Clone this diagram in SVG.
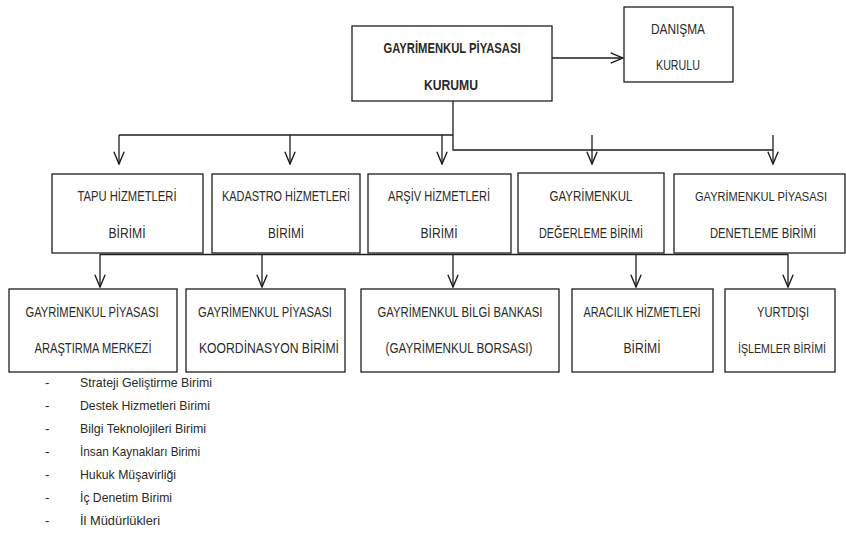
<svg xmlns="http://www.w3.org/2000/svg" width="846" height="545" viewBox="0 0 846 545">
<style>
.box{fill:#fff;stroke:#1e1e1e;stroke-width:1.3}
.t{font-family:"Liberation Sans",Arial,sans-serif;font-size:14px;fill:#2a2a2a;text-anchor:middle}
.tb{font-weight:bold}
.s13{font-size:12px}
.s12{font-size:12.5px}
.l{font-family:"Liberation Sans",Arial,sans-serif;font-size:13.5px;fill:#2a2a2a}
.c{fill:none;stroke:#1e1e1e;stroke-width:1.3}
</style>
<defs>
<marker id="v" markerUnits="userSpaceOnUse" markerWidth="14" markerHeight="12" viewBox="0 0 12 10" refX="11" refY="5" orient="auto">
<path d="M0.5,0.6 L11,5 L0.5,9.4" fill="none" stroke="#1e1e1e" stroke-width="1.2"/>
</marker>
</defs>
<rect width="846" height="545" fill="#fff"/>

<g id="connectors">
<line class="c" x1="552" y1="58" x2="623" y2="58" marker-end="url(#v)"/>
<path class="c" d="M453,101 V150 H773"/>
<path class="c" d="M119,135 H453"/>
<line class="c" x1="119" y1="135" x2="119" y2="164" marker-end="url(#v)"/>
<line class="c" x1="290" y1="135" x2="290" y2="164" marker-end="url(#v)"/>
<line class="c" x1="442" y1="135" x2="442" y2="164" marker-end="url(#v)"/>
<line class="c" x1="592" y1="135" x2="592" y2="164" marker-end="url(#v)"/>
<line class="c" x1="773" y1="135" x2="773" y2="164" marker-end="url(#v)"/>
<path class="c" d="M100,254.5 H788"/>
<line class="c" x1="100" y1="254" x2="100" y2="287" marker-end="url(#v)"/>
<line class="c" x1="262" y1="254" x2="262" y2="287" marker-end="url(#v)"/>
<line class="c" x1="453" y1="254" x2="453" y2="287" marker-end="url(#v)"/>
<line class="c" x1="636" y1="254" x2="636" y2="287" marker-end="url(#v)"/>
<line class="c" x1="788" y1="254" x2="788" y2="287" marker-end="url(#v)"/>
</g>

<g id="kurum">
<rect class="box" x="352" y="26" width="200" height="75"/>
<text class="t tb" x="452" y="53" textLength="137" lengthAdjust="spacingAndGlyphs">GAYRİMENKUL PİYASASI</text>
<text class="t tb" x="451" y="90" textLength="54" lengthAdjust="spacingAndGlyphs">KURUMU</text>
</g>

<g id="danisma">
<rect class="box" x="624" y="7" width="109" height="75"/>
<text class="t" x="678" y="34" textLength="54" lengthAdjust="spacingAndGlyphs">DANIŞMA</text>
<text class="t" x="678" y="70" textLength="44" lengthAdjust="spacingAndGlyphs">KURULU</text>
</g>

<g id="tapu">
<rect class="box" x="52" y="174" width="151" height="79"/>
<text class="t" x="127" y="201" textLength="99" lengthAdjust="spacingAndGlyphs">TAPU HİZMETLERİ</text>
<text class="t" x="127" y="238" textLength="37" lengthAdjust="spacingAndGlyphs">BİRİMİ</text>
</g>

<g id="kadastro">
<rect class="box" x="212" y="174" width="148" height="79"/>
<text class="t" x="286" y="201" textLength="128" lengthAdjust="spacingAndGlyphs">KADASTRO HİZMETLERİ</text>
<text class="t" x="286" y="238" textLength="36" lengthAdjust="spacingAndGlyphs">BİRİMİ</text>
</g>

<g id="arsiv">
<rect class="box" x="368" y="174" width="143" height="79"/>
<text class="t" x="439" y="201" textLength="102" lengthAdjust="spacingAndGlyphs">ARŞİV HİZMETLERİ</text>
<text class="t" x="439" y="238" textLength="37" lengthAdjust="spacingAndGlyphs">BİRİMİ</text>
</g>

<g id="degerleme">
<rect class="box" x="518" y="173" width="146" height="80"/>
<text class="t" x="591" y="201" textLength="83" lengthAdjust="spacingAndGlyphs">GAYRİMENKUL</text>
<text class="t" x="591" y="238" textLength="104" lengthAdjust="spacingAndGlyphs">DEĞERLEME BİRİMİ</text>
</g>

<g id="denetleme">
<rect class="box" x="674" y="174" width="171" height="79"/>
<text class="t s13" x="761" y="201" textLength="132" lengthAdjust="spacingAndGlyphs">GAYRİMENKUL PİYASASI</text>
<text class="t" x="763" y="238" textLength="106" lengthAdjust="spacingAndGlyphs">DENETLEME BİRİMİ</text>
</g>

<g id="arastirma">
<rect class="box" x="9" y="289" width="168" height="83"/>
<text class="t" x="92" y="317" textLength="133" lengthAdjust="spacingAndGlyphs">GAYRİMENKUL PİYASASI</text>
<text class="t" x="93" y="353" textLength="117" lengthAdjust="spacingAndGlyphs">ARAŞTIRMA MERKEZİ</text>
</g>

<g id="koordinasyon">
<rect class="box" x="186" y="289" width="159" height="83"/>
<text class="t" x="265" y="317" textLength="134" lengthAdjust="spacingAndGlyphs">GAYRİMENKUL PİYASASI</text>
<text class="t" x="269" y="353" textLength="140" lengthAdjust="spacingAndGlyphs">KOORDİNASYON BİRİMİ</text>
</g>

<g id="bilgibankasi">
<rect class="box" x="361" y="289" width="198" height="83"/>
<text class="t" x="460" y="317" textLength="165" lengthAdjust="spacingAndGlyphs">GAYRİMENKUL BİLGİ BANKASI</text>
<text class="t" x="459" y="353" textLength="147" lengthAdjust="spacingAndGlyphs">(GAYRİMENKUL BORSASI)</text>
</g>

<g id="aracilik">
<rect class="box" x="572" y="289" width="141" height="83"/>
<text class="t" x="642" y="317" textLength="117" lengthAdjust="spacingAndGlyphs">ARACILIK HİZMETLERİ</text>
<text class="t" x="642" y="353" textLength="37" lengthAdjust="spacingAndGlyphs">BİRİMİ</text>
</g>

<g id="yurtdisi">
<rect class="box" x="725" y="289" width="110" height="83"/>
<text class="t" x="783" y="317" textLength="52" lengthAdjust="spacingAndGlyphs">YURTDIŞI</text>
<text class="t s12" x="782" y="353" textLength="88" lengthAdjust="spacingAndGlyphs">İŞLEMLER BİRİMİ</text>
</g>

<g id="list">
<text class="l" x="45" y="387">-</text>
<text class="l" x="80" y="387" textLength="132" lengthAdjust="spacingAndGlyphs">Strateji Geliştirme Birimi</text>
<text class="l" x="45" y="410">-</text>
<text class="l" x="80" y="410" textLength="130" lengthAdjust="spacingAndGlyphs">Destek Hizmetleri Birimi</text>
<text class="l" x="45" y="433">-</text>
<text class="l" x="80" y="433" textLength="126" lengthAdjust="spacingAndGlyphs">Bilgi Teknolojileri Birimi</text>
<text class="l" x="45" y="456">-</text>
<text class="l" x="80" y="456" textLength="120" lengthAdjust="spacingAndGlyphs">İnsan Kaynakları Birimi</text>
<text class="l" x="45" y="479">-</text>
<text class="l" x="80" y="479" textLength="96" lengthAdjust="spacingAndGlyphs">Hukuk Müşavirliği</text>
<text class="l" x="45" y="502">-</text>
<text class="l" x="80" y="502" textLength="92" lengthAdjust="spacingAndGlyphs">İç Denetim Birimi</text>
<text class="l" x="45" y="525">-</text>
<text class="l" x="80" y="525" textLength="80" lengthAdjust="spacingAndGlyphs">İl Müdürlükleri</text>
</g>
</svg>
